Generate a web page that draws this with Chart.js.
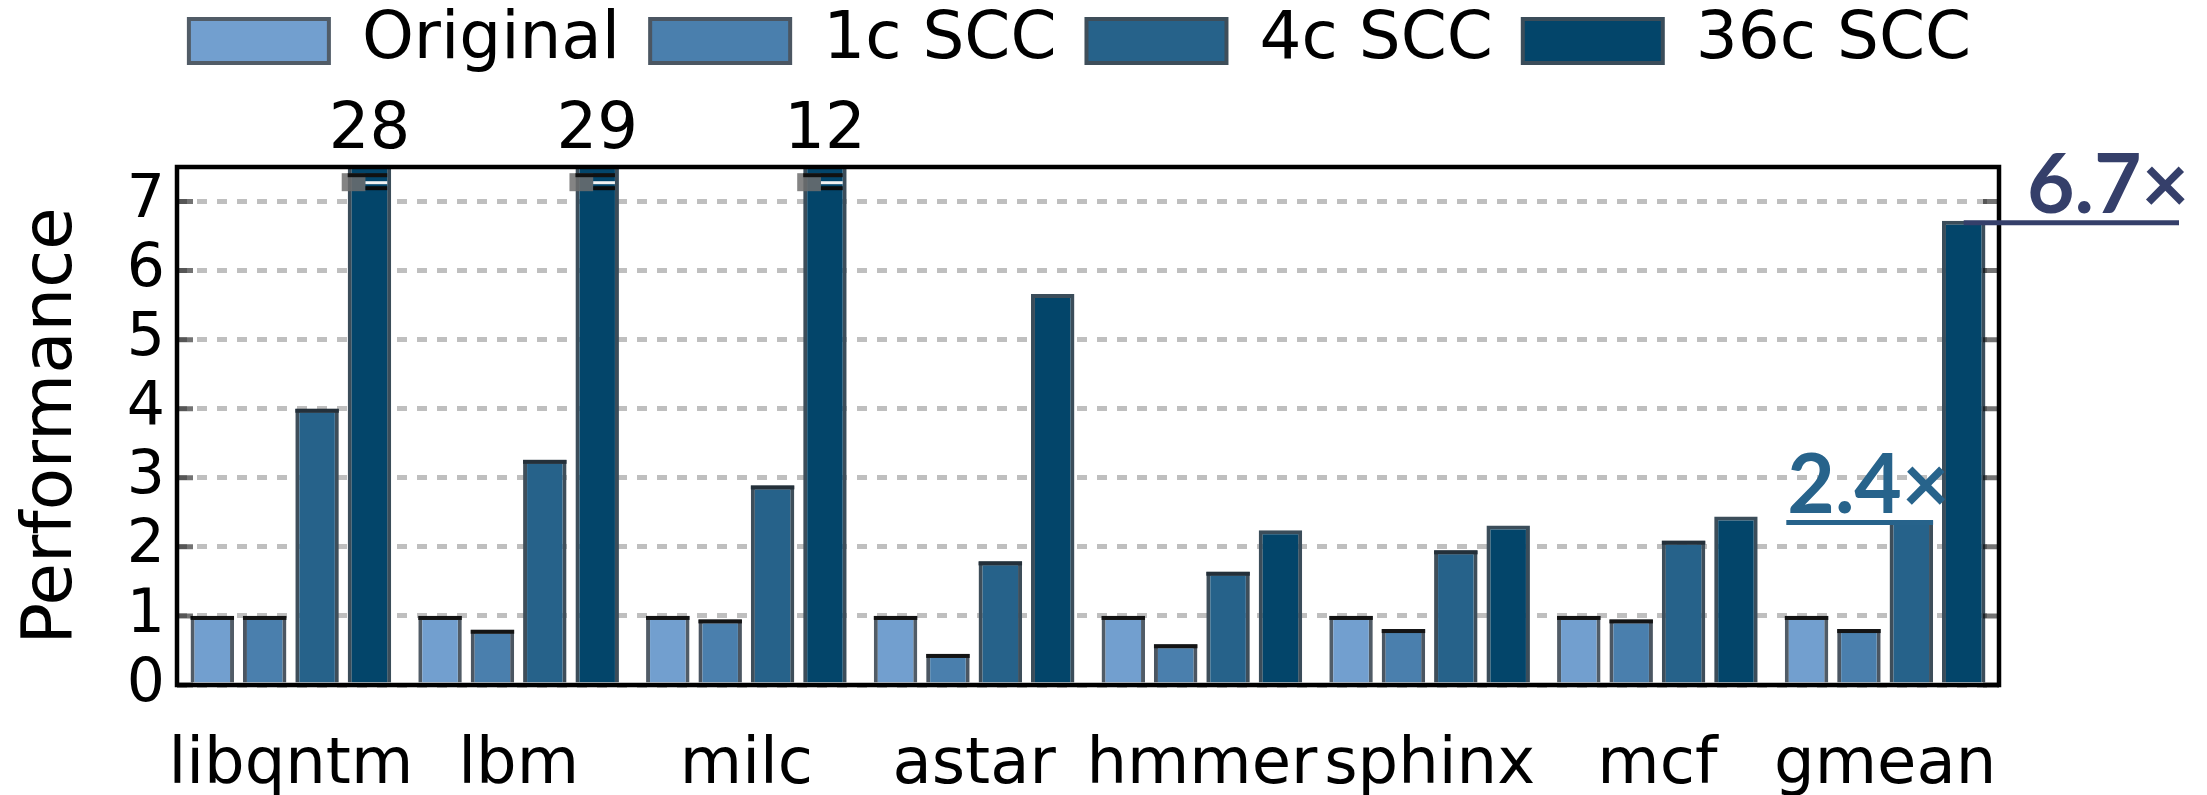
<!DOCTYPE html>
<html>
<head>
<meta charset="utf-8">
<script src="https://cdn.jsdelivr.net/npm/chart.js@4.4.1/dist/chart.umd.min.js"></script>
<style>
  html, body { margin: 0; padding: 0; background: #fff; overflow: hidden; }
  #wrap { position: relative; width: 2207px; height: 795px; overflow: hidden; }
  #perf { position: absolute; left: 0; top: -22px; }
</style>
</head>
<body>
<div id="wrap"><canvas id="perf" width="2207" height="817"></canvas></div>
<script>
// ---- data ----
const categories = ['libqntm', 'lbm', 'milc', 'astar', 'hmmer', 'sphinx', 'mcf', 'gmean'];
const seriesNames = ['Original', '1c SCC', '4c SCC', '36c SCC'];
const original = [1, 1, 1, 1, 1, 1, 1, 1];
const scc1c = [1.0, 0.80, 0.95, 0.45, 0.59, 0.81, 0.95, 0.81];
const scc4c = [4.0, 3.26, 2.89, 1.79, 1.64, 1.95, 2.09, 2.38];
const scc36c = [28, 29, 12, 5.66, 2.24, 2.31, 2.44, 6.72];
const yTicks = [0, 1, 2, 3, 4, 5, 6, 7];
const yMax = 7.5;
const calloutSeries = [2, 3];   // 4c and 36c gmean get a "N.N×" callout
const calloutCategory = 7;      // gmean

const fills = ['#729fcf', '#4a7fad', '#26628a', '#03456a'];
const edges = ['#515c67', '#4b5662', '#3e4e5a', '#3b4d5a'];
const topEdges = ['#121212', '#141414', '#24303a', null];

Chart.defaults.font.family = '"DejaVu Sans", sans-serif';
Chart.defaults.color = '#000';

// frame, break marks, overflow labels and callouts
const decor = {
    id: 'decor',
    afterDatasetsDraw(chart) {
        const ctx = chart.ctx;
        chart.data.datasets.forEach((ds, di) => {
            if (!topEdges[di]) return;
            chart.getDatasetMeta(di).data.forEach((bar, i) => {
                if (ds.data[i] > yMax) return;
                const p = bar.getProps(['x', 'y', 'width'], true);
                ctx.fillStyle = topEdges[di];
                ctx.fillRect(p.x - p.width / 2, p.y, p.width, 4);
            });
        });
    },
    afterDraw(chart) {
        const ctx = chart.ctx;
        const a = chart.chartArea;
        const y = chart.scales.y;
        ctx.save();

        // inward tick marks
        ctx.strokeStyle = 'rgba(0,0,0,0.55)';
        ctx.lineWidth = 5;
        yTicks.forEach(v => {
            const py = y.getPixelForValue(v);
            ctx.beginPath();
            ctx.moveTo(a.left, py); ctx.lineTo(a.left + 16, py);
            ctx.moveTo(a.right - 16, py); ctx.lineTo(a.right, py);
            ctx.stroke();
        });

        // bars that run off the top: break mark + value
        const ds = chart.data.datasets[3];
        chart.getDatasetMeta(3).data.forEach((bar, i) => {
            const v = ds.data[i];
            if (v <= yMax) return;
            const p = bar.getProps(['x', 'width'], true);
            const l = p.x - p.width / 2, r = p.x + p.width / 2;
            const yb = y.getPixelForValue(7.28);
            ctx.fillStyle = 'rgba(110,110,110,0.85)';
            ctx.fillRect(l - 6, yb - 9, p.x - l + 2, 18);
            ctx.fillStyle = '#111';
            ctx.fillRect(l, yb - 9, p.width - 4, 4);
            ctx.fillStyle = '#f2f2f2';
            ctx.fillRect(p.x - 4, yb - 1, r - p.x, 3);
            ctx.fillStyle = '#0c0c0c';
            ctx.fillRect(p.x - 4, yb + 4, r - p.x, 4);

            ctx.fillStyle = '#000';
            ctx.font = '64px "DejaVu Sans"';
            ctx.textAlign = 'center';
            ctx.textBaseline = 'middle';
            ctx.fillText(String(v), p.x, a.top - 36);
        });

        // plot frame
        ctx.strokeStyle = '#000';
        ctx.lineWidth = 4.5;
        ctx.strokeRect(a.left, a.top, a.right - a.left, a.bottom - a.top);

        // callouts on gmean
        ctx.font = 'bold 82px Lato';
        ctx.textAlign = 'left';
        ctx.textBaseline = 'alphabetic';
        calloutSeries.forEach(si => {
            const bar = chart.getDatasetMeta(si).data[calloutCategory];
            const p = bar.getProps(['x', 'y', 'width'], true);
            const txt = chart.data.datasets[si].data[calloutCategory].toFixed(1) + '×';
            let x0, x1, tx;
            if (si === 3) {
                ctx.fillStyle = ctx.strokeStyle = '#353f6a';
                x0 = p.x; x1 = a.right + 180; tx = a.right + 28;
            } else {
                ctx.fillStyle = ctx.strokeStyle = '#27638b';
                x0 = p.x - 125; x1 = p.x + p.width / 2; tx = x0 + 1;
            }
            ctx.lineWidth = 5;
            ctx.beginPath();
            ctx.moveTo(x0, p.y + 2); ctx.lineTo(x1, p.y + 2);
            ctx.stroke();
            ctx.fillText(txt, tx, p.y - 8);
        });
        ctx.restore();
    }
};

const seriesData = [original, scc1c, scc4c, scc36c];

new Chart(document.getElementById('perf'), {
    type: 'bar',
    data: {
        labels: categories,
        datasets: seriesNames.map((name, i) => ({
            label: name,
            data: seriesData[i],
            backgroundColor: fills[i],
            borderColor: edges[i],
            borderWidth: 4,
            borderSkipped: 'bottom',
            categoryPercentage: 0.92,
            barPercentage: 0.83
        }))
    },
    options: {
        responsive: false,
        animation: false,
        devicePixelRatio: 1,
        layout: { padding: { left: 0, right: 47, top: 0, bottom: 0 } },
        plugins: {
            legend: {
                position: 'top',
                labels: {
                    boxWidth: 140,
                    boxHeight: 44,
                    padding: 30,
                    color: '#000',
                    font: { size: 66 }
                }
            },
            tooltip: { enabled: false }
        },
        scales: {
            x: {
                grid: { display: false, drawTicks: false },
                border: { display: false },
                ticks: { font: { size: 64 }, padding: 43, color: '#000', maxRotation: 0, autoSkip: false },
                afterFit: s => { s.height = 110; }
            },
            x2: {
                type: 'category',
                labels: categories,
                position: 'top',
                grid: { display: false, drawTicks: false },
                border: { display: false },
                ticks: { display: false },
                afterFit: s => { s.height = 83; }
            },
            y: {
                min: 0,
                max: yMax,
                z: 1,
                ticks: { stepSize: 1, autoSkip: false, includeBounds: false, font: { size: 60 }, padding: 12, color: '#000' },
                grid: { color: 'rgba(0,0,0,0.25)', lineWidth: 5, drawTicks: false },
                border: { display: false, dash: [10, 10] },
                title: { display: true, text: 'Performance', font: { size: 69 }, color: '#000', padding: { top: 12, bottom: 0 } },
                afterFit: s => { s.width = 177; }
            },
            y2: {
                position: 'right',
                min: 0,
                max: yMax,
                grid: { display: false, drawTicks: false },
                border: { display: false },
                ticks: { display: false },
                afterFit: s => { s.width = 161; }
            }
        }
    },
    plugins: [decor]
});
</script>
</body>
</html>
